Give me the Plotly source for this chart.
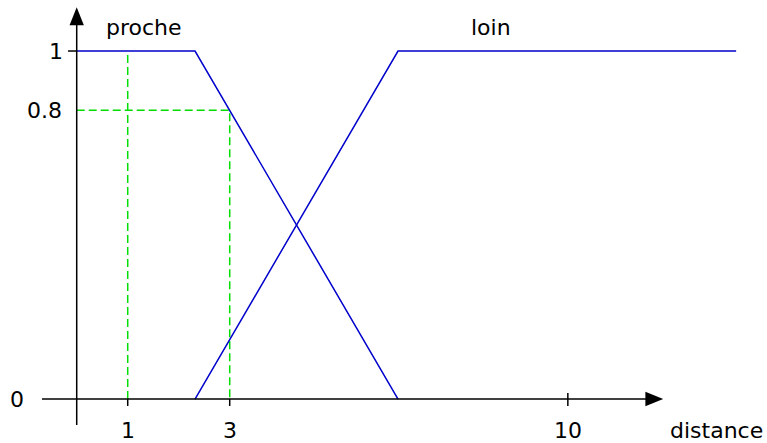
import plotly.graph_objects as go

# membership functions (schematic, x in drawing units where 1 unit = one "distance" step)
proche_x = [0, 2.32, 6.3]
proche_y = [1, 1, 0]
loin_x = [2.32, 6.3, 12.93]
loin_y = [0, 1, 1]

# green dashed guide lines (x=1 -> 1, x=3 -> 0.8)
guide1_x = [1, 1]
guide1_y = [0, 1]
guide2_x = [0, 3, 3]
guide2_y = [0.83, 0.83, 0]

x_tick_vals = [1, 3, 9.63]
x_tick_text = ['1', '3', '10']
y_tick_vals = [1, 0.83, 0]
y_tick_text = ['1', '0.8', '0']
y_label_x = [-0.41, -0.63, -1.18]

FONT = dict(family='DejaVu Sans', size=22, color='black')
BLUE = '#0000cc'
GREEN = '#00dd00'


def main():
    traces = [
        go.Scatter(x=guide1_x, y=guide1_y, mode='lines',
                   line=dict(color=GREEN, width=1.5, dash='8px,4px')),
        go.Scatter(x=guide2_x, y=guide2_y, mode='lines',
                   line=dict(color=GREEN, width=1.5, dash='8px,4px')),
        go.Scatter(x=proche_x, y=proche_y, mode='lines',
                   line=dict(color=BLUE, width=1.5)),
        go.Scatter(x=loin_x, y=loin_y, mode='lines',
                   line=dict(color=BLUE, width=1.5)),
    ]

    axis_line = dict(color='black', width=1.5)
    shapes = [
        # x axis and arrow head
        dict(type='line', x0=-0.68, x1=11.2, y0=0, y1=0, line=axis_line),
        dict(type='path', path='M 11.5 0 L 11.15 0.021 L 11.15 -0.021 Z',
             fillcolor='black', line=dict(width=0)),
        # y axis and arrow head
        dict(type='line', x0=0, x1=0, y0=-0.075, y1=1.09, line=axis_line),
        dict(type='path', path='M 0 1.126 L -0.14 1.074 L 0.14 1.074 Z',
             fillcolor='black', line=dict(width=0)),
        # y tick at 1
        dict(type='line', x0=-0.17, x1=0, y0=1, y1=1, line=axis_line),
    ]
    for i, v in enumerate(x_tick_vals):
        top = 0.017 if x_tick_text[i] == '10' else 0
        shapes.append(dict(type='line', x0=v, x1=v, y0=top, y1=-0.02, line=axis_line))

    annotations = [
        dict(x=1.32, y=1.069, text='proche'),
        dict(x=8.12, y=1.069, text='loin'),
        dict(x=12.54, y=-0.09, text='distance'),
    ]
    for v, t in zip(x_tick_vals, x_tick_text):
        annotations.append(dict(x=v, y=-0.09, text=t))
    for v, t, lx in zip(y_tick_vals, y_tick_text, y_label_x):
        annotations.append(dict(x=lx, y=v, text=t))
    for a in annotations:
        a.update(showarrow=False, xref='x', yref='y', xanchor='center',
                 yanchor='middle', font=FONT)

    fig = go.Figure(
        data=traces,
        layout=go.Layout(
            width=767,
            height=443,
            showlegend=False,
            margin=dict(l=0, r=0, t=0, b=0),
            paper_bgcolor='white',
            plot_bgcolor='white',
            xaxis=dict(visible=False, range=[-1.504, 13.535]),
            yaxis=dict(visible=False, range=[-0.1264, 1.1466]),
            shapes=shapes,
            annotations=annotations,
        ))

    # drop the default page margin so the figure fills the window exactly
    fig.write_html('out.html', config={'displayModeBar': False},
                   post_script="document.body.style.margin='0';")


if __name__ == '__main__':
    main()
